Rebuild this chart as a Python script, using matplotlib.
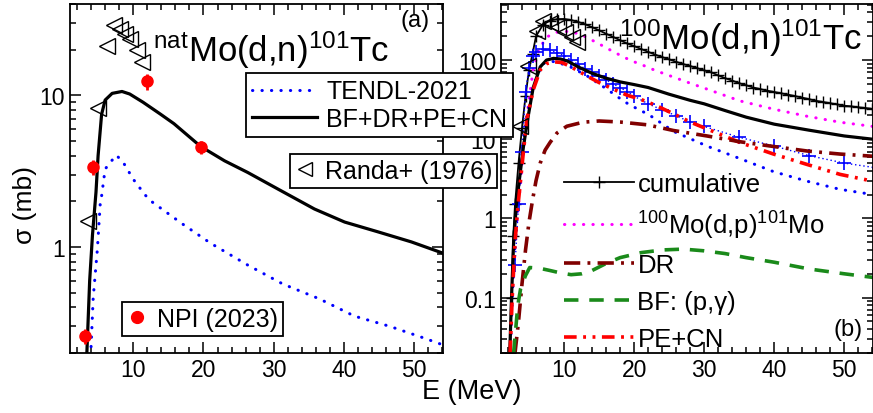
import matplotlib.pyplot as plt
from matplotlib.ticker import MultipleLocator, NullFormatter
from matplotlib.lines import Line2D

plt.rcParams['font.family'] = ['Liberation Sans', 'DejaVu Sans']
plt.rcParams['mathtext.fontset'] = 'custom'
plt.rcParams['mathtext.rm'] = 'Liberation Sans'

# ---------- panel (a): natMo(d,n)101Tc ----------
e_calc_a = [3.4, 3.8, 4.2, 4.7, 5.0, 5.5, 6.0, 7.0, 8.4, 9.5, 11.4, 13.9, 15.8, 19.6,
            23.0, 26.3, 30.6, 35.8, 40.1, 44.8, 49.6, 54.1]
s_calc_a = [0.2, 0.6, 1.2, 2.3, 4.0, 7.5, 9.3, 10.3, 10.6, 10.2, 9.0, 7.5, 6.5, 4.6,
            3.7, 3.1, 2.41, 1.78, 1.46, 1.26, 1.08, 0.91]
e_tendl_a = [4.0, 4.3, 4.9, 5.3, 5.5, 6.0, 6.7, 7.6, 8.6, 10.0, 11.7, 12.7, 17.0, 21.0,
             26.3, 31.3, 36.5, 41.5, 46.5, 51.5, 54.1]
s_tendl_a = [0.22, 0.46, 0.97, 1.92, 2.17, 3.26, 3.6, 4.03, 3.6, 2.8, 2.2, 1.98, 1.42, 1.06,
             0.76, 0.57, 0.455, 0.35, 0.30, 0.25, 0.226]
e_randa_a = [3.6, 5.0, 6.3, 7.3, 8.1, 8.9, 9.6, 10.6, 11.3]
s_randa_a = [1.48, 8.3, 21.0, 29.0, 27.5, 25.5, 23.5, 20.0, 16.7]
e_npi = [3.1, 4.3, 11.9, 19.6]
s_npi = [0.26, 3.36, 12.4, 4.55]
ds_npi = [0.03, 0.38, 1.5, 0.45]

# ---------- panel (b): 100Mo(d,n)101Tc ----------
e_cum = [2.3, 2.5, 2.75, 3, 3.5, 4, 4.5, 5, 5.5, 6, 7, 8, 9, 10, 11, 12, 13, 14, 15, 16, 17,
         18, 19, 20, 21, 22, 23, 24, 25, 26, 27, 28, 29, 30, 31, 32, 33, 34, 35, 36, 37, 38,
         39, 40, 41, 42, 43, 44, 45, 46, 47, 48, 49, 50, 51, 52, 53, 54]
s_cum = [0.02, 0.1, 0.6, 1.5, 5, 14, 35, 75, 120, 200, 280, 315, 328, 330, 320, 303, 283,
         260, 237, 215, 196, 178, 162, 150, 138, 127, 117, 109, 102, 95, 89, 84, 79, 74, 70,
         64, 59, 55, 51, 48, 45, 43, 41, 39.5, 38, 36.5, 35, 33.5, 32, 30.5, 29.5, 28.5, 27.5,
         26.5, 26, 25.3, 24.8, 24.2]
e_calc_b = [2.25, 2.5, 2.8, 3.2, 3.7, 4.2, 4.9, 5.6, 6.6, 7.5, 8.5, 9.5, 10.5, 12, 14, 16,
            18, 20, 22, 25, 28, 30, 33, 36, 40, 45, 50, 54.1]
s_calc_b = [0.02, 0.1, 0.5, 1.5, 3.5, 8, 20, 45, 82, 100, 105, 103, 97, 82, 68, 59,
            53, 49, 45, 37, 31, 28, 23, 19, 15.5, 13, 11, 10]
e_dp = [2.3, 2.6, 3.0, 3.4, 3.7, 4.2, 4.7, 5.6, 6.5, 7.5, 9, 10.6, 11, 12, 13, 14, 15, 16,
        17, 18, 19, 20, 21, 23, 25.6, 28, 30.4, 35.1, 39.9, 44.7, 49.4, 54.1]
s_dp = [0.02, 0.1, 0.5, 1.2, 2.3, 7.5, 19.5, 77, 140, 195, 225, 230, 228, 215, 198, 178,
        160, 143, 128, 115, 104, 95, 88, 74, 61, 51, 43, 30.5, 24, 19.5, 16.4, 14.5]
e_tendl_b = [2.3, 2.6, 3.0, 3.4, 3.7, 4.0, 4.7, 5.6, 6.5, 7.2, 8, 9, 10.9, 13.3, 16.1, 18.7,
             20.9, 21.9, 25.6, 30.4, 35.1, 39.9, 44.7, 49.4, 54.1]
s_tendl_b = [0.02, 0.1, 0.5, 1.5, 2.5, 7, 19.5, 45, 75, 92, 97, 94, 82, 63, 43, 29.5,
             23, 21, 12.6, 8.2, 5.7, 3.9, 2.95, 2.33, 2.0]
e_tcum = [3.0, 3.5, 4.0, 4.5, 5, 5.5, 6, 7, 8, 9, 10, 11, 12, 13, 14, 15, 16, 17, 18, 19, 20,
          22, 24, 26, 28, 30, 35, 40, 45, 50, 55]
s_tcum = [0.26, 1.5, 7, 40, 80, 112, 128, 138, 132, 124, 114, 100, 88, 78, 70, 62, 56, 50,
          45, 40, 35, 28, 23.5, 19.8, 16.5, 14.5, 10.6, 8.2, 6.2, 5.0, 4.3]
e_pecn = [2.3, 2.6, 3.0, 3.4, 3.7, 4.2, 4.7, 5.6, 6.6, 7.5, 8.5, 9.7, 11, 13.4, 15, 17, 19,
          20.9, 23, 25.6, 28, 30.4, 35.1, 39.9, 44.7, 49.4, 54.1]
s_pecn = [0.02, 0.1, 0.5, 1.4, 2.5, 7, 18, 42, 75, 90, 95, 93, 82, 62, 52, 43, 36,
          32, 27, 21, 16.5, 13.5, 9.1, 6.5, 4.8, 3.6, 2.95]
e_dr = [3.0, 3.5, 4.0, 4.5, 5.0, 5.5, 6.0, 6.6, 7.3, 8.0, 9.0, 10.4, 12.7, 15, 18, 21.9,
        25.6, 30.4, 35.1, 39.9, 44.7, 49.4, 54.1]
s_dr = [0.02, 0.05, 0.15, 0.4, 0.9, 1.7, 3.0, 5.0, 7.3, 9.1, 12, 14.6, 16.4, 17, 16.5, 15.2,
        12.9, 11, 9.3, 8.1, 7.1, 6.5, 6.1]
e_bf = [2.8, 3.1, 3.4, 3.8, 4.5, 5.1, 6.5, 8, 9.5, 11, 12.5, 14, 16, 18, 21, 24, 27, 30,
        33, 36, 40, 45, 50, 54.1]
s_bf = [0.02, 0.04, 0.08, 0.13, 0.19, 0.24, 0.235, 0.22, 0.205, 0.195, 0.2, 0.22, 0.27,
        0.32, 0.37, 0.4, 0.41, 0.39, 0.36, 0.32, 0.28, 0.23, 0.2, 0.18]
e_randa_b = [3.7, 4.9, 6.1, 7.0, 8.0, 9.1, 10.1, 11.1, 11.9]
s_randa_b = [14.5, 84, 233, 310, 290, 262, 226, 195, 168]

fig = plt.figure(figsize=(8.73, 4.14), dpi=100)
ax1 = fig.add_axes([70/873, 60/414, 373/873, 349/414])
ax2 = fig.add_axes([501/873, 60/414, 372/873, 349/414])
ax1.set_zorder(3)

dots = dict(linestyle=(0, (0.1, 3.0)), dash_capstyle='round')

# panel (a)
l_tendl, = ax1.plot(e_tendl_a, s_tendl_a, color='blue', lw=2.2, **dots)
l_calc, = ax1.plot(e_calc_a, s_calc_a, color='black', lw=2.3)
ax1.plot(e_randa_a, s_randa_a, '<', mfc='none', mec='black', ms=11, mew=1.0)
ax1.errorbar(e_npi, s_npi, yerr=ds_npi, fmt='o', color='red', ms=8, elinewidth=2, capsize=0)

# panel (b)
l_cum, = ax2.plot(e_cum, s_cum, color='black', lw=1.3, marker='+', ms=9, mew=1.0)
l_dp, = ax2.plot(e_dp, s_dp, color='magenta', lw=2.2, **dots)
ax2.plot(e_tcum, s_tcum, color='blue', lw=1.0, ls=(0, (1, 2)), marker='+', ms=10, mew=1.2)
ax2.plot(e_tendl_b, s_tendl_b, color='blue', lw=2.2, **dots)
ax2.plot(e_calc_b, s_calc_b, color='black', lw=2.3)
l_pecn, = ax2.plot(e_pecn, s_pecn, color='red', lw=2.6, ls=(0, (3.5, 1.8, 0.8, 1.8, 0.8, 1.8)))
l_dr, = ax2.plot(e_dr, s_dr, color='#800000', lw=2.6, ls=(0, (4.5, 2.0, 0.8, 2.0)))
l_bf, = ax2.plot(e_bf, s_bf, color='#1a8a1a', lw=2.6, ls=(0, (4.0, 3.0)))
ax2.plot(e_randa_b, s_randa_b, '<', mfc='none', mec='black', ms=11, mew=1.0)

for ax in (ax1, ax2):
    ax.set_yscale('log')
    ax.set_xlim(1, 54.1)
    ax.xaxis.set_major_locator(MultipleLocator(10))
    ax.xaxis.set_minor_locator(MultipleLocator(2))
    ax.yaxis.set_minor_formatter(NullFormatter())
    ax.tick_params(which='both', direction='in', top=True, right=True, labelsize=16.5, width=1.1)
    ax.tick_params(which='major', length=8)
    ax.tick_params(which='minor', length=4)
    for sp in ax.spines.values():
        sp.set_linewidth(1.3)

ax1.set_ylim(0.2, 40)
ax1.set_yticks([1, 10], ['1', '10'])
ax2.set_ylim(0.02, 510)
ax2.set_yticks([0.1, 1, 10, 100], ['0.1', '1', '10', '100'])

ax1.text(0.223, 0.837, r'$\mathregular{^{nat}Mo(d{,}n)^{101}Tc}$', transform=ax1.transAxes,
         fontsize=25, va='baseline', ha='left')
ax2.text(0.97, 0.871, r'$\mathregular{^{100}Mo(d{,}n)^{101}Tc}$', transform=ax2.transAxes,
         fontsize=25, va='baseline', ha='right')
ax1.text(0.925, 0.954, '(a)', transform=ax1.transAxes, fontsize=17, ha='center', va='center')
ax2.text(0.933, 0.069, '(b)', transform=ax2.transAxes, fontsize=17, ha='center', va='center')

frame = dict(frameon=True, fancybox=False, edgecolor='black', framealpha=1,
             borderaxespad=0, loc='upper left', fontsize=18)
leg1 = ax1.legend([l_tendl, l_calc], ['TENDL-2021', 'BF+DR+PE+CN'],
                  bbox_to_anchor=(0.472, 0.802), handlelength=2.6, handletextpad=0.35,
                  labelspacing=0.15, borderpad=0.25, **frame)
leg1.get_frame().set_linewidth(1.3)
ax1.add_artist(leg1)
h_randa = Line2D([], [], ls='none', marker='<', mfc='none', mec='black', ms=10, mew=1.0)
leg2 = ax1.legend([h_randa], ['Randa+ (1976)'], bbox_to_anchor=(0.59, 0.57),
                  handlelength=0.8, handletextpad=0.4, borderpad=0.2, **frame)
leg2.get_frame().set_linewidth(1.3)
ax1.add_artist(leg2)
h_npi = Line2D([], [], ls='none', marker='o', color='red', ms=8.5)
leg3 = ax1.legend([h_npi], ['NPI (2023)'], bbox_to_anchor=(0.139, 0.146),
                  handlelength=0.8, handletextpad=0.4, borderpad=0.2, **frame)
leg3.get_frame().set_linewidth(1.3)

ax2.legend([l_cum, l_dp, l_dr, l_bf, l_pecn],
           ['cumulative', r'$\mathregular{^{100}Mo(d{,}p)^{101}Mo}$', 'DR', 'BF: (p,γ)', 'PE+CN'],
           loc='upper left', bbox_to_anchor=(0.17, 0.52), frameon=False, fontsize=18.5,
           handlelength=2.7, handletextpad=0.15, labelspacing=0.5, borderaxespad=0,
           borderpad=0)

fig.text(25/873, 1 - 205/414, 'σ (mb)', rotation=90, fontsize=19, ha='center', va='center')
fig.text(472/873, 1 - 392/414, 'E (MeV)', fontsize=19.5, ha='center', va='center')

plt.savefig('out.png', dpi=100)
